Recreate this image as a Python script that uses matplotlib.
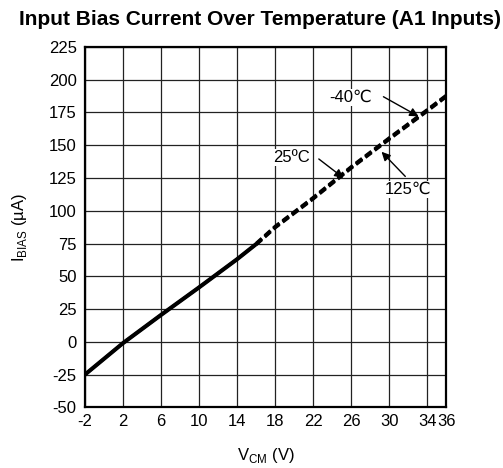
import matplotlib
matplotlib.use("Agg")
import matplotlib.pyplot as plt

plt.rcParams['font.family'] = ['Liberation Sans', 'DejaVu Sans']
plt.rcParams['axes.unicode_minus'] = False

# Data
x_solid = [-2, 2, 6, 10, 14, 16]
y_solid_m40 = [-25, -1, 20.5, 41.5, 63, 74.5]
y_solid_25 = [-25.5, -1.5, 20, 41, 62.5, 74]
y_solid_125 = [-24.5, -0.5, 21, 42, 63.5, 75]

x_dash = [16, 18, 22, 26, 30, 34, 36]
y_dash_m40 = [74.5, 87.5, 109.5, 133, 155, 176.5, 187.5]
y_dash_25 = [74, 87, 109, 132.5, 154.5, 176, 187]
y_dash_125 = [75, 88, 110, 133.5, 155.5, 177, 188]

xticks = [-2, 2, 6, 10, 14, 18, 22, 26, 30, 34, 36]
yticks = list(range(-50, 226, 25))

title = "Input Bias Current Over Temperature (A1 Inputs)"

fig = plt.figure(figsize=(5.03, 4.68), dpi=100)
ax = fig.add_axes([0.169, 0.1297, 0.718, 0.7700])

for ys in (y_solid_m40, y_solid_25, y_solid_125):
    ax.plot(x_solid, ys, color='black', lw=2.2, solid_capstyle='butt', zorder=3)
for ys in (y_dash_m40, y_dash_25, y_dash_125):
    ax.plot(x_dash, ys, color='black', lw=2.4, linestyle=(0, (2.3, 1.2)),
            dash_capstyle='butt', zorder=3)

ax.set_xlim(-2, 36)
ax.set_ylim(-50, 225)
ax.set_xticks(xticks)
ax.set_yticks(yticks)
ax.tick_params(axis='y', length=0, labelsize=12, pad=6)
ax.tick_params(axis='x', length=0, labelsize=12, pad=5)
ax.grid(True, color='#222222', lw=0.9)
ax.set_axisbelow(True)
for s in ax.spines.values():
    s.set_linewidth(1.6)
    s.set_color('black')

ax.set_xlabel(r"V$_{\mathregular{CM}}$ (V)", fontsize=12, labelpad=12)
ax.set_ylabel(r"I$_{\mathregular{BIAS}}$ (µA)", fontsize=12, labelpad=14)
fig.text(0.516, 0.978, title, fontsize=15, fontweight='bold', ha='center', va='top')

ap = dict(arrowstyle='-|>', color='black', lw=1.0, mutation_scale=13, shrinkA=0, shrinkB=0)
bb = dict(facecolor='white', edgecolor='none', pad=0.5)
ax.text(25.9, 186.5, "-40℃", fontsize=12, ha='center', va='center', bbox=bb, zorder=4)
ax.annotate("", xy=(33.1, 172), xytext=(29.4, 187), arrowprops=ap, zorder=4)
ax.text(19.75, 140.7, "25ºC", fontsize=12, ha='center', va='center', bbox=bb, zorder=4)
ax.annotate("", xy=(25.2, 125), xytext=(22.6, 139.5), arrowprops=ap, zorder=4)
ax.text(32.0, 116.2, "125℃", fontsize=12, ha='center', va='center', bbox=bb, zorder=4)
ax.annotate("", xy=(29.2, 145), xytext=(31.7, 126.2), arrowprops=ap, zorder=4)

fig.savefig("out.png", dpi=100)
